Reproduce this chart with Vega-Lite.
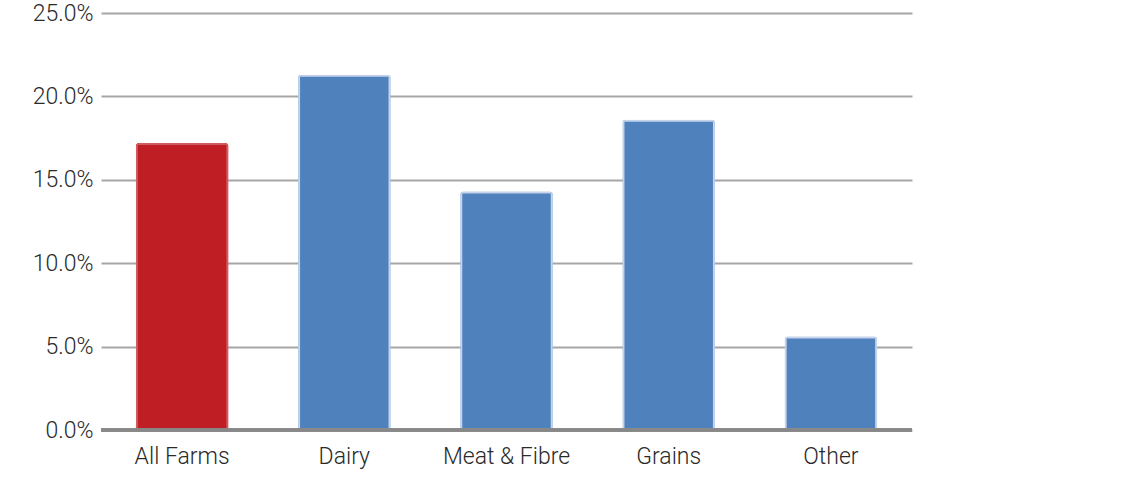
{
  "$schema": "https://vega.github.io/schema/vega-lite/v6.json",
  "width": 811,
  "height": 417,
  "autosize": {"type": "none"},
  "padding": {"left": 101, "top": 13, "right": 213, "bottom": 49},
  "background": "white",
  "config": {"view": {"stroke": null}},
  "data": {"values": [
    {"sector": "All Farms", "value": 17.2, "group": "all"},
    {"sector": "Dairy", "value": 21.3, "group": "sector"},
    {"sector": "Meat & Fibre", "value": 14.3, "group": "sector"},
    {"sector": "Grains", "value": 18.6, "group": "sector"},
    {"sector": "Other", "value": 5.6, "group": "sector"}
  ]},
  "layer": [
    {
      "mark": {"type": "bar", "strokeWidth": 4, "cornerRadius": 3},
      "encoding": {
        "x": {
          "field": "sector", "type": "nominal", "sort": null,
          "scale": {"paddingInner": 0.43, "paddingOuter": 0.215},
          "axis": {"title": null, "labelAngle": 0, "ticks": false, "domain": false, "labelFont": "Roboto", "labelFontWeight": 300, "labelFontSize": 23, "labelColor": "#2a2a2a", "labelPadding": 15}
        },
        "y": {
          "field": "value", "type": "quantitative",
          "scale": {"domain": [0, 25], "nice": false},
          "axis": {"title": null, "values": [0, 5, 10, 15, 20, 25], "labelExpr": "format(datum.value, '.1f') + '%'", "ticks": false, "domain": false, "grid": true, "gridColor": "#a6a6a6", "gridWidth": 2, "labelFont": "Roboto", "labelFontWeight": 300, "labelFontSize": 23, "labelColor": "#2a2a2a", "labelPadding": 8}
        },
        "color": {"field": "group", "type": "nominal", "scale": {"domain": ["all", "sector"], "range": ["#BE1E24", "#4F81BD"]}, "legend": null},
        "stroke": {"field": "group", "type": "nominal", "scale": {"domain": ["all", "sector"], "range": ["#cf5c5f", "#c5d4ea"]}, "legend": null}
      }
    },
    {
      "mark": {"type": "rule", "color": "#888888", "strokeWidth": 3},
      "encoding": {"y": {"datum": 0, "type": "quantitative"}}
    }
  ]
}
